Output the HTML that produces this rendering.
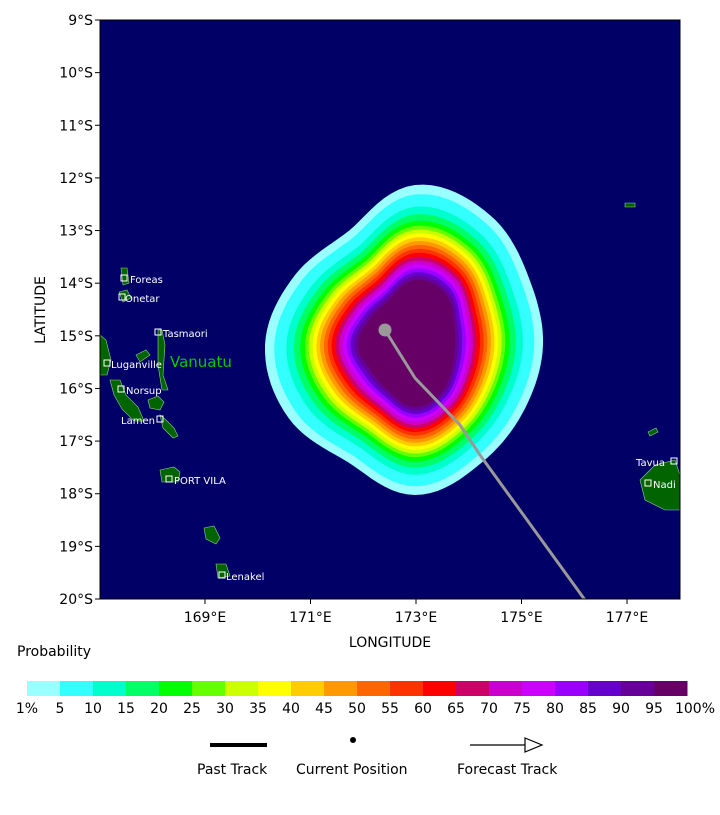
<!DOCTYPE html>
<html><head><meta charset="utf-8"><style>
body{margin:0;background:#fff;width:720px;height:810px;overflow:hidden;font-family:"Liberation Sans","DejaVu Sans",sans-serif}
svg text{font-family:"DejaVu Sans","Liberation Sans",sans-serif}
</style></head><body>
<svg id="s" width="720" height="810" xmlns="http://www.w3.org/2000/svg">
<rect x="100" y="20" width="580" height="579" fill="#000066"/>
<g id="blob"></g>
<g fill="#006400" stroke="#9c9" stroke-width="0.6">
<path d="M121,268 l6,0 2,15 -6,2z"/><path d="M119,292 l8,-2 4,8 -8,4z"/>
<path d="M158,330 l4,0 3,15 -2,30 5,15 -6,0 -4,-25z"/>
<path d="M100,335 l6,5 5,20 -4,15 -7,0z"/>
<path d="M136,355 l10,-5 4,5 -10,7z"/>
<path d="M110,380 l10,0 6,15 12,12 6,14 -10,0 -12,-12 -8,-14z"/>
<path d="M148,400 l10,-4 6,6 -4,8 -10,-2z"/><path d="M160,415 l6,5 8,8 4,8 -5,2 -10,-10z"/>
<path d="M160,470 l14,-3 6,5 -2,10 -16,0z"/>
<path d="M204,528 l10,-2 6,12 -4,6 -10,-5z"/><path d="M216,564 l10,0 4,12 -12,2z"/>
<path d="M640,480 l15,-15 20,-5 5,15 0,35 -15,0 -20,-10z"/>
<path d="M625,203 l10,0 0,4 -10,0z"/><path d="M648,432 l8,-4 2,4 -8,4z"/>
</g>
<g fill="#fff" font-size="10">
<text x="130" y="283">Foreas</text><text x="125" y="302">Onetar</text>
<text x="163" y="337">Tasmaori</text><text x="111" y="368">Luganville</text>
<text x="126" y="394">Norsup</text><text x="121" y="424">Lamen</text>
<text x="174" y="484">PORT VILA</text><text x="226" y="580">Lenakel</text>
<text x="636" y="466">Tavua</text><text x="653" y="488">Nadi</text>
</g>
<g fill="none" stroke="#fff" stroke-width="1">
<rect x="121" y="275" width="6" height="6"/><rect x="119" y="294" width="6" height="6"/>
<rect x="155" y="329" width="6" height="6"/><rect x="104" y="360" width="6" height="6"/>
<rect x="118" y="386" width="6" height="6"/><rect x="157" y="416" width="6" height="6"/>
<rect x="166" y="476" width="6" height="6"/><rect x="219" y="572" width="6" height="6"/>
<rect x="671" y="458" width="6" height="6"/><rect x="645" y="480" width="6" height="6"/>
</g>
<text x="170" y="367" fill="#00cc00" font-size="15">Vanuatu</text>
<polyline points="385,330 415,378 460,425 480,455 585,600" fill="none" stroke="#999" stroke-width="3"/>
<circle cx="385" cy="330" r="6.5" fill="#999"/>
<rect x="0" y="599" width="720" height="20" fill="#fff"/>
<rect x="100" y="20" width="580" height="579" fill="none" stroke="#000" stroke-width="1"/>
<g id="ax" font-size="14" fill="#000"></g>
<text x="390" y="647" font-size="14" text-anchor="middle">LONGITUDE</text>
<text x="45" y="310" font-size="14" text-anchor="middle" transform="rotate(-90 45 310)">LATITUDE</text>
<text x="17" y="656" font-size="14">Probability</text>
<g id="cb" font-size="14"></g>
<line x1="210" y1="745" x2="267" y2="745" stroke="#000" stroke-width="4"/>
<circle cx="353" cy="740" r="3" fill="#000"/>
<line x1="470" y1="745" x2="525" y2="745" stroke="#000" stroke-width="1.2"/>
<path d="M525,738 L542,745 L525,752 Z" fill="#fff" stroke="#000" stroke-width="1.2"/>
<text x="197" y="774" font-size="14">Past Track</text>
<text x="296" y="774" font-size="14">Current Position</text>
<text x="457" y="774" font-size="14">Forecast Track</text>
</svg>
<script>
var C=["#99ffff","#33ffff","#00ffcc","#00ff66","#00ff00","#66ff00","#ccff00","#ffff00","#ffcc00","#ff9900","#ff6600","#ff3300","#ff0000","#cc0066","#cc00cc","#cc00ff","#9900ff","#6600cc","#660099","#660066"];
var O=[128,127,135,150,135,146,150,139,132,160,150,132],I=[40,43,54,62,53,51,57,52,52,65,60,45];
var F=[0,0.10,0.23,0.31,0.38,0.43];for(var j=6;j<20;j++)F.push(0.43+(j-5)*0.57/14);
var cx=415,cy=345,ns="http://www.w3.org/2000/svg",b=document.getElementById("blob");
function rad(arr,a){var t=a/30,i=Math.floor(t),f=t-i,n=12;var p0=arr[(i-1+n)%n],p1=arr[i%n],p2=arr[(i+1)%n],p3=arr[(i+2)%n];
return 0.5*((2*p1)+(-p0+p2)*f+(2*p0-5*p1+4*p2-p3)*f*f+(-p0+3*p1-3*p2+p3)*f*f*f);}
for(var k=0;k<20;k++){var d="";for(var a=0;a<360;a+=3){var r=rad(O,a)+(rad(I,a)-rad(O,a))*F[k];var th=a*Math.PI/180;d+=(a?"L":"M")+(cx+r*Math.cos(th)).toFixed(1)+","+(cy+r*Math.sin(th)).toFixed(1);}
var p=document.createElementNS(ns,"path");p.setAttribute("d",d+"Z");p.setAttribute("fill",C[k]);b.appendChild(p);}
var ax=document.getElementById("ax");
function add(par,tag,at,txt){var e=document.createElementNS(ns,tag);for(var q in at)e.setAttribute(q,at[q]);if(txt)e.textContent=txt;par.appendChild(e);}
for(var L=9;L<=20;L++){var y=20+(L-9)*579/11;add(ax,"line",{x1:95,x2:100,y1:y,y2:y,stroke:"#000"});add(ax,"text",{x:93,y:y+5,"text-anchor":"end"},L+"°S");}
for(var g=169;g<=177;g+=2){var x=205+(g-169)*52.75;add(ax,"line",{x1:x,x2:x,y1:599,y2:604,stroke:"#000"});add(ax,"text",{x:x,y:622,"text-anchor":"middle"},g+"°E");}
var cb=document.getElementById("cb"),lb=["1%","5","10","15","20","25","30","35","40","45","50","55","60","65","70","75","80","85","90","95","100%"];
for(var k=0;k<20;k++)add(cb,"rect",{x:27+k*33,y:681,width:33.5,height:15,fill:C[k]});
for(var k=0;k<21;k++)add(cb,"text",{x:27+k*33+(k==20?8:0),y:713,"text-anchor":"middle"},lb[k]);
</script>
</body></html>
